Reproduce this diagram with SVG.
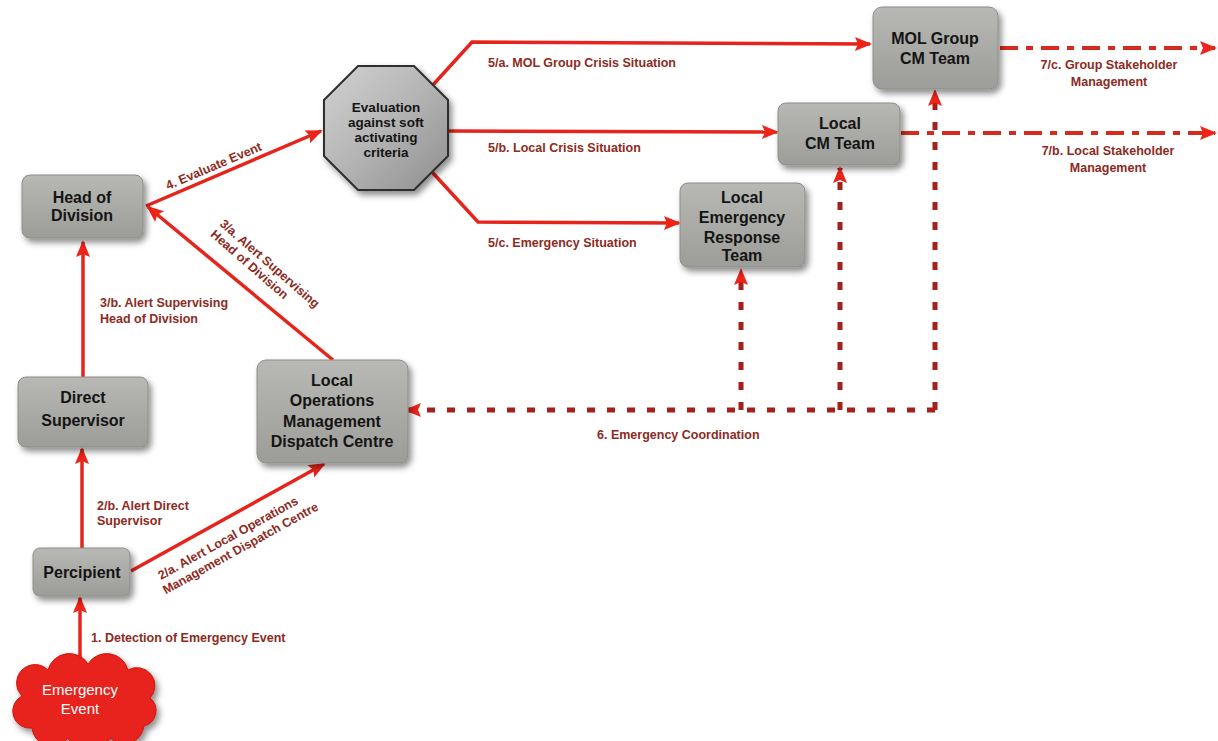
<svg xmlns="http://www.w3.org/2000/svg" width="1218" height="741" viewBox="0 0 1218 741">
<style>
.node rect{fill:url(#gbox);stroke:#8c8c88;stroke-width:1;filter:url(#sh)}
.nt{font-family:"Liberation Sans",Arial,sans-serif;font-weight:bold;font-size:16px;fill:#141414;text-anchor:middle}
.et{font-family:"Liberation Sans",Arial,sans-serif;font-weight:bold;font-size:13.5px;fill:#141414;text-anchor:middle}
.lb{font-family:"Liberation Sans",Arial,sans-serif;font-weight:bold;font-size:12.5px;fill:#8e2a22}
.lbc{font-family:"Liberation Sans",Arial,sans-serif;font-weight:bold;font-size:12.5px;fill:#8e2a22;text-anchor:middle}
.solid{fill:none;stroke:#e6241c;stroke-width:3.5;marker-end:url(#ah)}
.dashdot{fill:none;stroke:#d62a1f;stroke-width:4;stroke-dasharray:18 8 7 8;marker-end:url(#ah)}
.dot{fill:none;stroke:#a3201b;stroke-width:5;stroke-dasharray:8 12}
.dota{fill:none;stroke:#a3201b;stroke-width:5;stroke-dasharray:8 12;marker-end:url(#ah)}
</style>
<defs>
<linearGradient id="gbox" x1="0" y1="0" x2="0" y2="1">
<stop offset="0" stop-color="#b8b8b4"/>
<stop offset="1" stop-color="#9c9c98"/>
</linearGradient>
<linearGradient id="goct" x1="0" y1="0" x2="1" y2="1">
<stop offset="0" stop-color="#d2d2d2"/>
<stop offset="0.5" stop-color="#b4b4b4"/>
<stop offset="1" stop-color="#8e8e8e"/>
</linearGradient>
<filter id="sh" x="-20%" y="-20%" width="150%" height="160%">
<feDropShadow dx="3" dy="4" stdDeviation="3" flood-color="#000" flood-opacity="0.45"/>
</filter>
<marker id="ah" markerUnits="userSpaceOnUse" markerWidth="18" markerHeight="16" refX="15" refY="8" orient="auto">
<path d="M0,1 L17,8 L0,15 L3,8 z" fill="#ee2418"/>
</marker>
</defs>

<g id="connectors">
<path class="solid" d="M80,664 L80,598"/>
<path class="solid" d="M82,548 L82,449"/>
<path class="solid" d="M131,571 L324,464"/>
<path class="solid" d="M83,377 L83,242"/>
<path class="solid" d="M333,360 L148,207"/>
<path class="solid" d="M146,206 L321,131"/>
<path class="solid" d="M432,86 L472,42 L870,44"/>
<path class="solid" d="M448,131 L777,132"/>
<path class="solid" d="M432,172 L478,222 L679,223"/>
<path class="dashdot" d="M1000,48 L1215,48"/>
<path class="dashdot" d="M901,133 L1215,133"/>
<path class="dota" d="M935,410 L406,410"/>
<path class="dota" d="M741,410 L741,270"/>
<path class="dota" d="M840,410 L840,168"/>
<path class="dota" d="M935,410 L935,91"/>
<text class="lb" x="91" y="642">1. Detection of Emergency Event</text>
<text class="lb" x="97" y="510">2/b. Alert Direct</text>
<text class="lb" x="97" y="525">Supervisor</text>
<g transform="translate(161,580) rotate(-29)">
<text class="lb" x="0" y="0">2/a. Alert Local Operations</text>
<text class="lb" x="-3" y="15">Management Dispatch Centre</text>
</g>
<text class="lb" x="100" y="307">3/b. Alert Supervising</text>
<text class="lb" x="100" y="323">Head of Division</text>
<g transform="translate(219,225) rotate(41)">
<text class="lb" x="0" y="0">3/a. Alert Supervising</text>
<text class="lb" x="0" y="14">Head of Division</text>
</g>
<g transform="translate(168,190) rotate(-23)">
<text class="lb" x="0" y="0">4. Evaluate Event</text>
</g>
<text class="lb" x="488" y="67">5/a. MOL Group Crisis Situation</text>
<text class="lb" x="488" y="152">5/b. Local Crisis Situation</text>
<text class="lb" x="488" y="247">5/c. Emergency Situation</text>
<text class="lb" x="597" y="439">6. Emergency Coordination</text>
<text class="lbc" x="1109" y="69">7/c. Group Stakeholder</text>
<text class="lbc" x="1109" y="86">Management</text>
<text class="lbc" x="1108" y="155">7/b. Local Stakeholder</text>
<text class="lbc" x="1108" y="172">Management</text>
</g>

<g id="emergency-event">
<path d="M22,696 a18,18 0 0 1 26,-26 a22,22 0 0 1 40,-6 a22,22 0 0 1 40,6 a18,18 0 0 1 22,28 a16,16 0 0 1 -6,28 a20,20 0 0 1 -34,12 a22,22 0 0 1 -42,0 a20,20 0 0 1 -36,-10 a17,17 0 0 1 -10,-32 z" fill="#e8201a" stroke="#d01810" stroke-width="1" filter="url(#sh)"/>
<text x="80" y="695" font-family="Liberation Sans,Arial,sans-serif" font-size="15" fill="#ffffff" text-anchor="middle">Emergency</text>
<text x="80" y="714" font-family="Liberation Sans,Arial,sans-serif" font-size="15" fill="#ffffff" text-anchor="middle">Event</text>
</g>

<g id="percipient" class="node">
<rect x="33" y="548" width="97" height="48" rx="7"/>
<text class="nt" x="82" y="578">Percipient</text>
</g>

<g id="direct-supervisor" class="node">
<rect x="18" y="377" width="130" height="70" rx="8"/>
<text class="nt" x="83" y="403">Direct</text>
<text class="nt" x="83" y="426">Supervisor</text>
</g>

<g id="head-of-division" class="node">
<rect x="22" y="175" width="121" height="63" rx="8"/>
<text class="nt" x="82" y="203">Head of</text>
<text class="nt" x="82" y="221">Division</text>
</g>

<g id="local-operations" class="node">
<rect x="257" y="360" width="151" height="103" rx="9"/>
<text class="nt" x="332" y="386">Local</text>
<text class="nt" x="332" y="406">Operations</text>
<text class="nt" x="332" y="427">Management</text>
<text class="nt" x="332" y="447">Dispatch Centre</text>
</g>

<g id="evaluation">
<polygon points="358,66 414,66 448,100 448,156 414,190 358,190 324,156 324,100" fill="url(#goct)" stroke="#2e2e2e" stroke-width="2" filter="url(#sh)"/>
<text class="et" x="386" y="112">Evaluation</text>
<text class="et" x="386" y="127">against soft</text>
<text class="et" x="386" y="142">activating</text>
<text class="et" x="386" y="157">criteria</text>
</g>

<g id="mol-group" class="node">
<rect x="873" y="7" width="125" height="82" rx="9"/>
<text class="nt" x="935" y="44">MOL Group</text>
<text class="nt" x="935" y="64">CM Team</text>
</g>

<g id="local-cm" class="node">
<rect x="778" y="103" width="122" height="62" rx="8"/>
<text class="nt" x="840" y="129">Local</text>
<text class="nt" x="840" y="149">CM Team</text>
</g>

<g id="local-ert" class="node">
<rect x="680" y="183" width="125" height="84" rx="8"/>
<text class="nt" x="742" y="203">Local</text>
<text class="nt" x="742" y="223">Emergency</text>
<text class="nt" x="742" y="243">Response</text>
<text class="nt" x="742" y="261">Team</text>
</g>
</svg>
